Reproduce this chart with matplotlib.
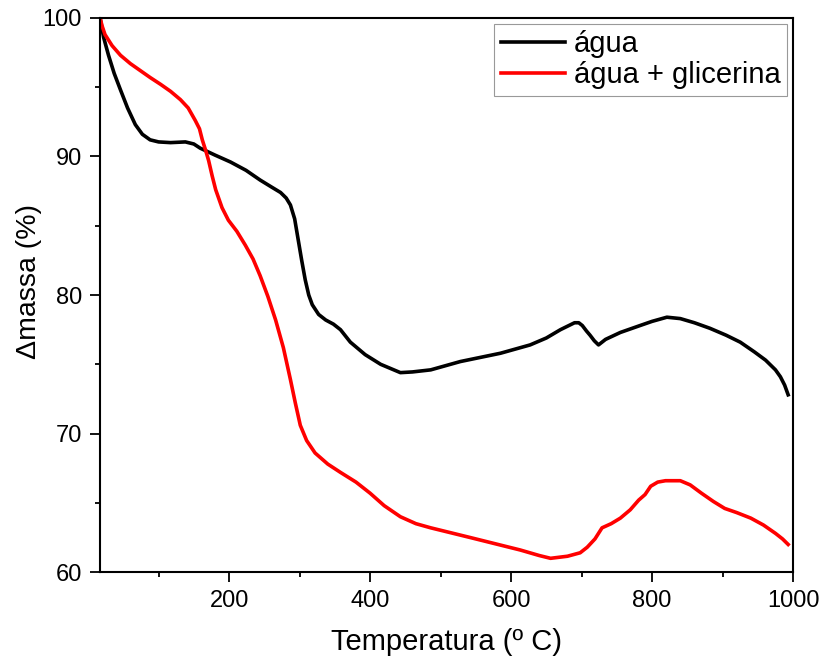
import matplotlib.pyplot as plt
from matplotlib.ticker import MultipleLocator

plt.rcParams['font.family'] = ['Liberation Sans', 'DejaVu Sans']

# água (black curve)
t_agua = [17, 22, 29, 37, 46, 56, 67, 77, 88, 100, 117, 138, 150, 159, 180, 202,
          224, 244, 260, 273, 281, 287, 293, 298, 303, 308, 313, 318, 327, 337,
          348, 358, 372, 393, 415, 443, 460, 486, 528, 585, 627, 650, 670, 690,
          696, 701, 707, 712, 718, 724, 729, 734, 755, 783, 800, 821, 840, 860,
          882, 905, 925, 945, 961, 975, 982, 988, 993]
m_agua = [100, 98.6, 97.3, 96.0, 94.8, 93.5, 92.3, 91.6, 91.2, 91.05, 91.0,
          91.05, 90.9, 90.6, 90.1, 89.6, 89.0, 88.3, 87.8, 87.4, 87.0, 86.5, 85.5,
          84.0, 82.5, 81.1, 80.0, 79.3, 78.6, 78.2, 77.9, 77.5, 76.6, 75.7, 75.0,
          74.4, 74.45, 74.6, 75.2, 75.8, 76.4, 76.9, 77.5, 78.0, 78.0, 77.8, 77.4,
          77.1, 76.7, 76.4, 76.6, 76.8, 77.3, 77.8, 78.1, 78.4, 78.3, 78.0, 77.6,
          77.1, 76.6, 75.9, 75.3, 74.6, 74.1, 73.5, 72.8]

# água + glicerina (red curve)
t_glic = [17, 20, 24, 34, 46, 60, 74, 88, 103, 117, 131, 142, 152, 158, 162, 167,
          171, 176, 181, 190, 199, 211, 223, 234, 244, 255, 266, 277, 287, 294,
          301, 310, 322, 340, 358, 380, 400, 420, 443, 465, 486, 542, 613, 640,
          656, 680, 698, 708, 719, 729, 742, 755, 769, 781, 790, 798, 808, 819,
          830, 840, 854, 870, 887, 903, 920, 940, 958, 975, 985, 993]
m_glic = [100, 99.4, 98.8, 98.0, 97.3, 96.7, 96.2, 95.7, 95.2, 94.7, 94.1, 93.5,
          92.6, 92.0, 91.2, 90.4, 89.7, 88.6, 87.6, 86.3, 85.4, 84.6, 83.6, 82.6,
          81.4, 79.9, 78.2, 76.2, 73.9, 72.2, 70.6, 69.5, 68.6, 67.8, 67.2, 66.5,
          65.7, 64.8, 64.0, 63.5, 63.2, 62.5, 61.6, 61.2, 61.0, 61.15, 61.4, 61.8,
          62.4, 63.2, 63.5, 63.9, 64.5, 65.2, 65.6, 66.2, 66.5, 66.6, 66.6, 66.6,
          66.3, 65.7, 65.1, 64.6, 64.3, 63.9, 63.4, 62.8, 62.4, 62.0]

fig = plt.figure(figsize=(8.27, 6.63), dpi=100)
ax = fig.add_axes([0.121, 0.137, 0.838, 0.836])

ax.plot(t_agua, m_agua, color='black', lw=2.6, label='água')
ax.plot(t_glic, m_glic, color='red', lw=2.6, label='água + glicerina')

ax.set_xlim(17, 1000)
ax.set_ylim(60, 100)
ax.xaxis.set_major_locator(MultipleLocator(200))
ax.xaxis.set_minor_locator(MultipleLocator(100))
ax.yaxis.set_major_locator(MultipleLocator(10))
ax.yaxis.set_minor_locator(MultipleLocator(5))
ax.tick_params(which='major', direction='out', length=7, width=1.3,
               labelsize=17, pad=6)
ax.tick_params(which='minor', direction='out', length=3.6, width=1.3)
for s in ax.spines.values():
    s.set_linewidth(1.5)

ax.set_xlabel('Temperatura (º C)', fontsize=21, labelpad=11)
ax.set_ylabel('Δmassa (%)', fontsize=20.5)
ax.yaxis.set_label_coords(-0.084, 0.525)

leg = ax.legend(loc='upper right', fontsize=21, frameon=True, fancybox=False,
                handlelength=2.2, borderpad=0.22, labelspacing=0.11,
                handletextpad=0.31, borderaxespad=0.2)
leg.get_frame().set_edgecolor('gray')
leg.get_frame().set_linewidth(0.8)

fig.savefig('out.png', dpi=100)
